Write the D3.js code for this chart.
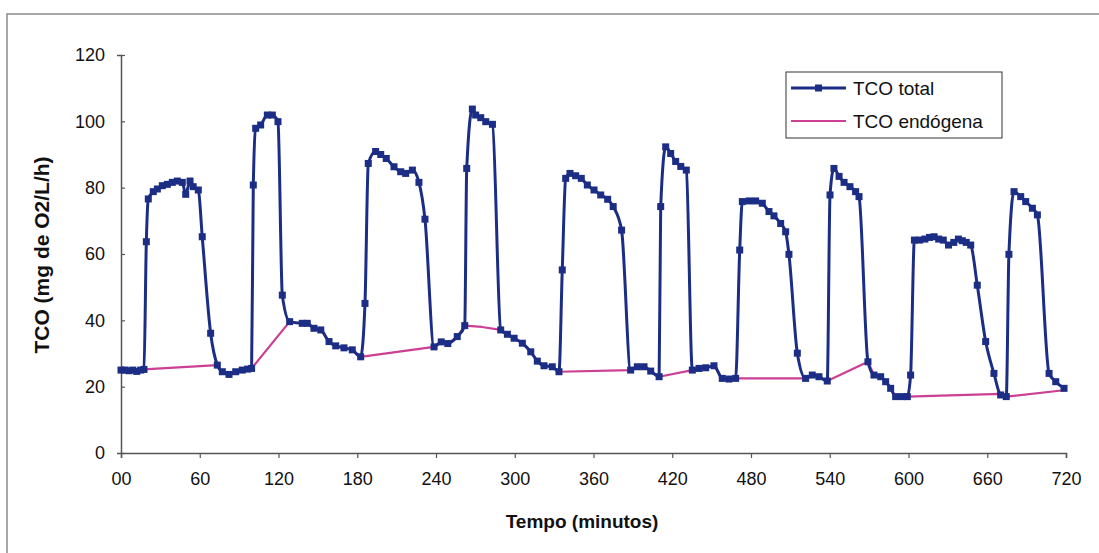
<!DOCTYPE html>
<html>
<head>
<meta charset="utf-8">
<script src="https://cdn.jsdelivr.net/npm/d3@7"></script>
<style>
  html, body { margin: 0; padding: 0; background: #fff; }
  svg { display: block; }
</style>
</head>
<body>
<div id="chart"></div>
<script>
// Data
const totalTime = [0, 3, 6, 9, 12, 15, 17.5, 19.3, 20.8, 24.6, 27.7, 31.5, 35.3, 39.1, 42.9, 46.7, 49.3, 52.6, 55, 58.9, 61.9,
  68.3, 73.4, 77.2, 82.3, 87.4, 92.4, 96.5, 99.5, 100.8, 102.6, 106.4, 111.5, 115.3, 119.6, 122.9, 128.5,
  138.1, 141.9, 147, 152.2, 158.5, 163.6, 169.9, 176.2, 182.6, 185.9, 188.4, 194, 197.9, 202.1, 208, 213.1, 216.9, 222, 227, 231.6,
  238.5, 244, 249, 256.2, 261.9, 263.4, 267.7, 270.2, 274.1, 277.9, 283, 289.3, 294.4, 299.5, 305.8, 312.2, 317.2, 322.3, 328.6,
  333.7, 336.2, 338.8, 342.1, 346.4, 350.7, 355.3, 360.4, 365.5, 370.8, 375, 381.4, 388.3, 393.4, 398.5, 403.6, 410,
  411.2, 415, 418.8, 422.6, 426.5, 430.7, 435.3, 440.4, 445.5, 451.8, 458.1, 463.2, 468.3, 471.4, 473.4, 478.5, 483.5, 488.6,
  493.7, 497.5, 502.6, 506.4, 508.9, 515.3, 521.6, 526.7, 531.8, 538.1, 540.2, 543.2, 547.1, 550.9, 555.4, 559.7, 562.3,
  569.1, 573.7, 578.8, 582.6, 586.4, 590.2, 595.3, 599.1, 601.6, 604.5, 608.5, 612.5, 616, 619.5, 623, 626.5, 630.5, 634.5,
  638, 641, 644, 647.4, 652.4, 658.8, 665.1, 670.2, 674.5, 676.5, 680.4, 685.5, 689.3, 694.4, 698.2, 707.1, 712.2, 718.5];
const totalValue = [25, 25, 24.8, 25, 24.6, 25, 25.2, 63.7, 76.6, 78.8, 79.6, 80.6, 81, 81.6, 82, 81.6, 78, 82, 80.3, 79.3, 65.2,
  36.1, 26.5, 24.5, 23.7, 24.5, 25, 25.3, 25.5, 80.8, 97.9, 98.9, 101.9, 101.9, 99.9, 47.6, 39.6,
  39.1, 39.1, 37.6, 37.1, 33.6, 32.3, 31.7, 31.1, 29, 45.1, 87.3, 90.9, 90, 88.8, 86.3, 84.8, 84.3, 85.3, 81.6, 70.5,
  32, 33.5, 33, 35.1, 38.4, 85.8, 103.7, 101.9, 101.1, 99.9, 99.1, 37.1, 35.8, 34.6, 33.1, 30.5, 27.7, 26.3, 26,
  24.5, 55.2, 82.8, 84.3, 83.6, 82.8, 80.8, 79.3, 77.8, 76.5, 74.3, 67.2, 25, 26, 26, 24.7, 23,
  74.3, 92.3, 90.3, 87.9, 86.4, 85.3, 25, 25.5, 25.7, 26.3, 22.5, 22.3, 22.5, 61.2, 75.8, 76, 76, 75.3,
  72.8, 71.5, 69.2, 66.7, 59.9, 30.1, 22.5, 23.5, 23, 21.7, 77.8, 85.8, 83.4, 81.6, 80.3, 78.8, 77.3,
  27.5, 23.5, 23, 21.5, 19.5, 17, 17, 17, 23.5, 64.2, 64.2, 64.5, 65, 65.2, 64.5, 64.2, 62.7, 63.5,
  64.5, 64, 63.5, 62.7, 50.6, 33.6, 24, 17.5, 17, 59.9, 78.8, 77.3, 75.8, 73.8, 71.8, 24, 21.5, 19.5];

// endogenous series: follows the baseline and bridges each peak
const endoTime = [0, 3, 6, 9, 12, 15, 17.5, 73.4, 77.2, 82.3, 87.4, 92.4, 96.5, 99.5, 128.5,
  138.1, 141.9, 147, 152.2, 158.5, 163.6, 169.9, 176.2, 182.6, 238.5, 244, 249, 256.2, 261.9, 275, 289.3,
  294.4, 299.5, 305.8, 312.2, 317.2, 322.3, 328.6, 333.7, 388.3, 393.4, 398.5, 403.6, 410, 435.3,
  440.4, 445.5, 451.8, 458.1, 463.2, 468.3, 521.6, 526.7, 531.8, 538.1, 569.1, 573.7, 578.8, 582.6,
  586.4, 590.2, 595.3, 599.1, 670.2, 674.5, 720];
const endoValue = [25, 25, 24.8, 25, 24.6, 25, 25.2, 26.5, 24.5, 23.7, 24.5, 25, 25.3, 25.5, 39.6,
  39.1, 39.1, 37.6, 37.1, 33.6, 32.3, 31.7, 31.1, 29, 32, 33.5, 33, 35.1, 38.4, 38, 37.1,
  35.8, 34.6, 33.1, 30.5, 27.7, 26.3, 26, 24.5, 25, 26, 26, 24.7, 23, 25,
  25.5, 25.7, 26.3, 22.5, 22.3, 22.5, 22.5, 23.5, 23, 21.7, 27.5, 23.5, 23, 21.5,
  19.5, 17, 17, 17, 17.8, 17, 19];

const xTicks = [0, 60, 120, 180, 240, 300, 360, 420, 480, 540, 600, 660, 720];
const xTickLabels = ["00", "60", "120", "180", "240", "300", "360", "420", "480", "540", "600", "660", "720"];
const yTicks = [0, 20, 40, 60, 80, 100, 120];
const seriesNames = ["TCO total", "TCO endógena"];

const W = 1099, H = 553;
const BLUE = "#1b2d84", PINK = "#cc3f93";
const font = '"Liberation Sans", Arial, sans-serif';

const svg = d3.select("#chart").append("svg")
  .attr("width", W).attr("height", H);

// outer frame of the scanned figure
svg.append("rect")
  .attr("x", 7).attr("y", 14).attr("width", W + 10).attr("height", H + 10)
  .attr("fill", "none").attr("stroke", "#8a8a8a").attr("stroke-width", 1.5);

const x = d3.scaleLinear().domain([0, 720]).range([121, 1066]);
const y = d3.scaleLinear().domain([0, 120]).range([453, 55]);

// Axes
const gx = svg.append("g")
  .attr("transform", `translate(0,${y(0)})`)
  .call(d3.axisBottom(x).tickValues(xTicks).tickSize(5).tickPadding(14)
    .tickFormat((d, i) => xTickLabels[i]));

const gy = svg.append("g")
  .attr("transform", `translate(${x(0)},0)`)
  .call(d3.axisLeft(y).tickValues(yTicks).tickSize(4).tickPadding(12));

gy.selectAll(".tick line").attr("x2", 4);
[gx, gy].forEach(g => {
  g.select(".domain").attr("stroke", "#555").attr("stroke-width", 1.5);
  g.selectAll(".tick line").attr("stroke", "#555").attr("stroke-width", 1.2);
  g.selectAll("text").attr("fill", "#111").style("font-family", font).style("font-size", "18px");
});

// Axis titles
svg.append("text")
  .attr("x", 582).attr("y", 528)
  .attr("text-anchor", "middle")
  .style("font-family", font).style("font-size", "19px").style("font-weight", "bold")
  .attr("fill", "#111")
  .text("Tempo (minutos)");

svg.append("text")
  .attr("transform", `translate(49,255) rotate(-90)`)
  .attr("text-anchor", "middle")
  .style("font-family", font).style("font-size", "21px").style("font-weight", "bold")
  .attr("fill", "#111")
  .text("TCO (mg de O2/L/h)");

// Lines
const total = totalTime.map((t, i) => ({ t, v: totalValue[i] }));
const endo = endoTime.map((t, i) => ({ t, v: endoValue[i] }));

const smooth = d3.line()
  .x(d => x(d.t))
  .y(d => y(d.v))
  .curve(d3.curveMonotoneX);

const straight = d3.line()
  .x(d => x(d.t))
  .y(d => y(d.v));

svg.append("path")
  .datum(endo)
  .attr("d", straight)
  .attr("fill", "none")
  .attr("stroke", PINK)
  .attr("stroke-width", 2.2)
  .attr("stroke-linejoin", "round");

svg.append("path")
  .datum(total)
  .attr("d", smooth)
  .attr("fill", "none")
  .attr("stroke", BLUE)
  .attr("stroke-width", 3);

svg.append("g").selectAll("rect")
  .data(total)
  .join("rect")
  .attr("x", d => x(d.t) - 3.5)
  .attr("y", d => y(d.v) - 3.5)
  .attr("width", 7).attr("height", 7)
  .attr("fill", BLUE);

// Legend
const legend = svg.append("g");
legend.append("rect")
  .attr("x", 786).attr("y", 72).attr("width", 216).attr("height", 66)
  .attr("fill", "#fff").attr("stroke", "#333").attr("stroke-width", 1);

const rows = legend.selectAll(".row")
  .data(seriesNames)
  .join("g")
  .attr("class", "row")
  .attr("transform", (d, i) => `translate(0,${88 + i * 33})`);

rows.append("line")
  .attr("x1", 791).attr("x2", 846)
  .attr("stroke", (d, i) => i === 0 ? BLUE : PINK)
  .attr("stroke-width", (d, i) => i === 0 ? 3 : 2.2);

rows.filter((d, i) => i === 0).append("rect")
  .attr("x", 815).attr("y", -3.5).attr("width", 7).attr("height", 7)
  .attr("fill", BLUE);

rows.append("text")
  .attr("x", 853).attr("dy", "0.36em")
  .style("font-family", font).style("font-size", "19px")
  .attr("fill", "#111")
  .text(d => d);
</script>
</body>
</html>
